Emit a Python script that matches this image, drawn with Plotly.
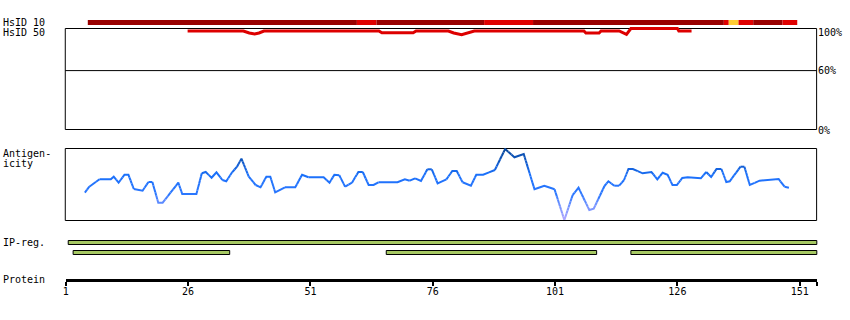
import plotly.graph_objects as go

W, H = 850, 320

# ---------------- data ----------------
protein_length = 154
tick_residues = [1, 26, 51, 76, 101, 126, 151]

# HsID 10 coloured track (residue ranges, inclusive)
hsid10_start = [6, 61, 65, 87, 97, 136, 137, 139, 142, 148]
hsid10_end = [60, 64, 86, 96, 135, 136, 138, 141, 147, 150]
hsid10_class = ["dark", "red", "dark", "red", "dark", "red", "yellow", "red", "dark", "red"]

# HsID 50 identity line (% identity)
hsid50_res = [25.9, 37.3, 38.5, 39.6, 40.5, 41.5, 65.0, 65.6, 72.0, 72.6, 79.2, 80.3, 81.9,
              83.3, 84.5, 106.9, 107.3, 110.0, 110.4, 114.1, 115.6, 116.5, 126.0, 126.3, 128.9]
hsid50_pct = [100, 100, 98, 97, 98, 100, 100, 98.2, 98.2, 100, 100, 98, 96.2,
              98, 100, 100, 98, 98, 100, 100, 96.5, 102.5, 102.5, 100, 100]

# Antigenicity profile
antigen_res = [4.9, 5.8, 7.9, 10.2, 10.8, 11.8, 13.0, 13.8, 14.9, 16.7,
               17.9, 18.7, 19.9, 20.8, 24.0, 24.8, 27.7, 28.8, 29.6, 30.8,
               31.8, 33.0, 33.8, 35.0, 36.0, 36.9, 38.4, 39.8, 40.8, 42.0,
               42.8, 43.8, 45.8, 47.9, 49.3, 50.6, 53.7, 54.9, 55.9, 56.9,
               58.1, 59.5, 60.8, 61.7, 62.9, 63.9, 64.9, 68.8, 70.3, 71.3,
               72.4, 73.6, 74.9, 75.8, 77.0, 78.8, 80.0, 80.9, 82.1, 83.8,
               84.9, 86.3, 88.7, 90.8, 92.7, 94.6, 96.8, 98.8, 100.9, 102.9,
               104.6, 105.8, 108.0, 108.9, 111.1, 111.9, 113.1, 114.1, 115.1, 116.0,
               116.9, 118.9, 120.7, 121.9, 123.0, 124.0, 125.0, 125.9, 127.0, 128.1,
               130.8, 131.9, 132.9, 134.0, 135.0, 136.0, 136.7, 138.9, 139.7, 140.8,
               142.8, 146.7, 147.9, 148.8]
antigen_score = [-0.27, 0.33, 1.07, 1.07, 1.33, 0.73, 1.53, 1.53, 0.10, -0.07,
                 0.80, 0.80, -1.27, -1.27, 0.73, -0.40, -0.40, 1.67, 1.80, 1.23,
                 1.77, 1.00, 0.87, 1.77, 2.33, 3.13, 1.33, 0.50, 0.27, 1.33,
                 1.33, -0.23, 0.27, 0.27, 1.53, 1.27, 1.27, 0.73, 1.53, 1.47,
                 0.33, 0.73, 1.80, 1.80, 0.50, 0.50, 0.77, 0.77, 1.07, 0.93,
                 1.17, 0.90, 2.07, 2.07, 0.67, 1.07, 1.90, 1.90, 0.77, 0.43,
                 1.53, 1.53, 2.00, 4.10, 3.27, 3.60, 0.07, 0.43, 0.07, -3.00,
                 -0.50, 0.23, -2.00, -1.87, 0.40, 0.87, 0.43, 0.43, 1.00, 2.10,
                 2.10, 1.67, 1.80, 1.07, 1.73, 1.53, 0.50, 0.50, 1.20, 1.27,
                 1.17, 1.80, 1.30, 2.10, 2.10, 0.80, 0.87, 2.33, 2.33, 0.50,
                 0.93, 1.10, 0.33, 0.23]

# IP regions
ip_start = [2, 3, 67, 117]
ip_end = [154, 34, 109, 154]
ip_row = [0, 1, 1, 1]

# ---------------- styles / layout geometry ----------------
FONT = "DejaVu Sans Mono"
hsid10_colors = {"dark": "#990000", "red": "#e00000", "yellow": "#ffcc33"}
ip_fill = "#a6c863"

X1_PX, XEND_PX = 63.0, 816.7          # pixel of residue 1 and of protein end
xend_res = protein_length + 0.5
scale = (XEND_PX - X1_PX) / (xend_res - 1)
x_range = [1 - X1_PX / scale, 1 + (W - X1_PX) / scale]


def pf(py):  # pixel row -> paper fraction
    return 1 - py / H


def lerp_color(v):
    stops = [(-3.0, (185, 170, 255)), (-1.5, (110, 145, 255)), (-0.5, (45, 120, 255)),
             (1.5, (26, 112, 250)), (2.6, (16, 90, 205)), (4.2, (10, 72, 150))]
    if v <= stops[0][0]:
        c = stops[0][1]
    elif v >= stops[-1][0]:
        c = stops[-1][1]
    else:
        for (a, ca), (b, cb) in zip(stops[:-1], stops[1:]):
            if a <= v <= b:
                t = (v - a) / (b - a)
                c = tuple(ca[i] + (cb[i] - ca[i]) * t for i in range(3))
                break
    return "rgb(%d,%d,%d)" % tuple(int(round(x)) for x in c)


fig = go.Figure()

# HsID 10 track (bars on pixel-lane axis y3)
fig.add_trace(go.Bar(
    orientation="h", y=[22.5] * len(hsid10_start),
    base=[s - 0.5 for s in hsid10_start],
    x=[e - s + 1 for s, e in zip(hsid10_start, hsid10_end)],
    width=5, marker=dict(color=[hsid10_colors[c] for c in hsid10_class], line=dict(width=0)),
    xaxis="x", yaxis="y3", showlegend=False, hoverinfo="skip"))

# IP regions
row_y = [242.5, 252.5]
fig.add_trace(go.Bar(
    orientation="h", y=[row_y[r] for r in ip_row],
    base=[s - 0.5 for s in ip_start],
    x=[e - s + 1 for s, e in zip(ip_start, ip_end)],
    width=4, marker=dict(color=ip_fill, line=dict(width=1, color="black")),
    xaxis="x", yaxis="y3", showlegend=False, hoverinfo="skip", cliponaxis=False))

# HsID 50 line
fig.add_trace(go.Scatter(x=hsid50_res, y=hsid50_pct, mode="lines",
                         line=dict(color="#dd0000", width=3),
                         xaxis="x", yaxis="y", showlegend=False, hoverinfo="skip"))

# Antigenicity line, coloured by value
groups = {}
prev_key = None
for i in range(len(antigen_res) - 1):
    r0, r1 = antigen_res[i], antigen_res[i + 1]
    v0, v1 = antigen_score[i], antigen_score[i + 1]
    n = max(1, int(abs(v1 - v0) / 0.35) + 1)
    for k in range(n):
        t0, t1 = k / n, (k + 1) / n
        xa, xb = r0 + (r1 - r0) * t0, r0 + (r1 - r0) * t1
        ya, yb = v0 + (v1 - v0) * t0, v0 + (v1 - v0) * t1
        key = round(((ya + yb) / 2 + 3) / 0.3)
        xs, ys = groups.setdefault(key, ([], []))
        if key == prev_key:
            xs.append(xb); ys.append(yb)
        else:
            if xs:
                xs.append(None); ys.append(None)
            xs.extend([xa, xb]); ys.extend([ya, yb])
        prev_key = key
for key, (xs, ys) in groups.items():
    fig.add_trace(go.Scatter(x=xs, y=ys, mode="lines",
                             line=dict(color=lerp_color(key * 0.3 - 3), width=2),
                             xaxis="x", yaxis="y2", showlegend=False, hoverinfo="skip"))

# protein axis helper trace (invisible)
fig.add_trace(go.Scatter(x=[1, xend_res], y=[279.5, 279.5], mode="lines",
                         line=dict(width=0, color="rgba(0,0,0,0)"),
                         xaxis="x2", yaxis="y3", showlegend=False, hoverinfo="skip"))

shapes = []
# boxes
for top, bot in [(28.5, 129.5), (148.5, 220.5)]:
    shapes.append(dict(type="rect", xref="paper", yref="paper", layer="below",
                       x0=62.5 / W, x1=816.5 / W, y0=pf(bot), y1=pf(top),
                       line=dict(color="black", width=1), fillcolor="rgba(0,0,0,0)"))
# 60% line
shapes.append(dict(type="line", xref="paper", yref="y", x0=62.5 / W, x1=816.5 / W,
                   y0=60, y1=60, line=dict(color="black", width=1), layer="below"))

annotations = []


def label(text, px, py, xanchor="left"):
    annotations.append(dict(text=text, x=px / W, y=pf(py), xref="paper", yref="paper",
                            xanchor=xanchor, yanchor="middle", showarrow=False,
                            font=dict(family=FONT, size=10, color="black")))


label("HsID 10", -2, 22.5)
label("HsID 50", -2, 32.5)
label("Antigen-", -2, 153.5)
label("icity", -2, 163.5)
label("IP-reg.", -2, 242.5)
label("Protein", -2, 279.5)
label("100%", 816, 32.5)
label("60%", 816, 70.5)
label("0%", 816, 130)

HS_TOP_PX = 22
fig.update_layout(
    width=W, height=H, margin=dict(l=0, r=0, t=0, b=0),
    paper_bgcolor="white", plot_bgcolor="rgba(0,0,0,0)",
    barmode="overlay", showlegend=False,
    xaxis=dict(domain=[0, 1], range=x_range, visible=False, fixedrange=True),
    xaxis2=dict(domain=[X1_PX / W, XEND_PX / W], range=[1, xend_res], anchor="free",
                position=pf(279.5), side="bottom", showline=True, linewidth=3,
                linecolor="black", ticks="outside", ticklen=4, tickwidth=2,
                tickcolor="black", tickvals=tick_residues + [xend_res],
                ticktext=[str(t) for t in tick_residues] + [""],
                tickfont=dict(family=FONT, size=10, color="black"),
                ticklabelstandoff=-3,
                showgrid=False, zeroline=False, fixedrange=True),
    yaxis=dict(domain=[pf(130), pf(HS_TOP_PX)], range=[0, (130 - HS_TOP_PX) / 0.99],
               visible=False, anchor="x", fixedrange=True),
    yaxis2=dict(domain=[pf(220), pf(148)], range=[-3.0, 4.2], visible=False,
                anchor="x", fixedrange=True),
    yaxis3=dict(domain=[0, 1], range=[H, 0], visible=False, anchor="x", fixedrange=True),
    shapes=shapes, annotations=annotations,
)

fig.write_html("out.html", config={"displayModeBar": False})
